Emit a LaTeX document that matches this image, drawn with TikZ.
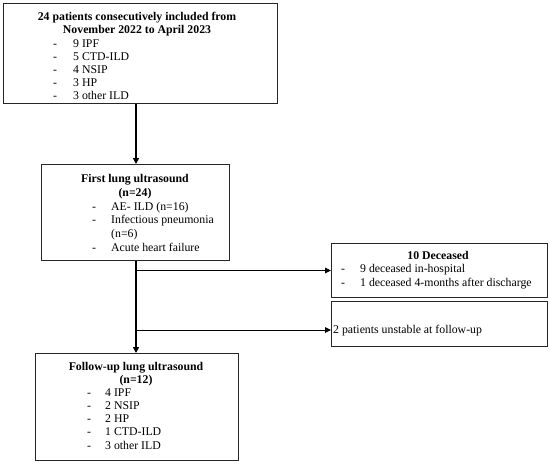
\documentclass[tikz,border=0pt]{standalone}
\usepackage{fontspec}
\setmainfont{Liberation Serif}
\usetikzlibrary{arrows.meta}
\newcommand\fcfs{\fontsize{11.8}{13}\selectfont}
\tikzset{
  box/.style={draw=black!85, line width=1pt, anchor=north west, inner sep=0pt},
  txt/.style={anchor=base west, inner sep=0pt, font=\fcfs},
  hd/.style={anchor=base, inner sep=0pt, font=\fcfs\bfseries},
  arr/.style={-{Triangle[width=6pt,length=6pt]}, line width=1.6pt},
  harr/.style={-{Triangle[width=5.5pt,length=6pt]}, line width=1pt}
}
\begin{document}
\begin{tikzpicture}[x=1pt,y=-1pt]
\useasboundingbox (0,0) rectangle (550,464);
% boxes
\node[box, minimum width=274pt, minimum height=100pt] (b1) at (3,3) {};
\node[box, minimum width=188pt, minimum height=96pt] (b2) at (41,164) {};
\node[box, minimum width=216pt, minimum height=54pt] (b3) at (331,243) {};
\node[box, minimum width=216pt, minimum height=45pt] (b3b) at (331,301) {};
\node[box, minimum width=203pt, minimum height=107pt] (b4) at (35,353) {};
% box 1 text
\node[hd] (h1a) at (137,20) {24 patients consecutively included from};
\node[hd] (h1b) at (137,33) {November 2022 to April 2023};
\foreach \t [count=\i] in {9 IPF, 5 CTD-ILD, 4 NSIP, 3 HP, 3 other ILD}{
  \node[txt] (d1\i) at (53,{47+13*(\i-1)}) {-};
  \node[txt] (t1\i) at (73,{47+13*(\i-1)}) {\t};
}
% box 2 text
\node[hd] (h2a) at (135,182) {First lung ultrasound};
\node[hd] (h2b) at (135,196) {(n=24)};
\node[txt] (d21) at (92,210) {-};
\node[txt] (t21) at (111,210) {AE- ILD (n=16)};
\node[txt] (d22) at (92,223) {-};
\node[txt] (t22) at (111,223) {Infectious pneumonia};
\node[txt] (t22b) at (111,237) {(n=6)};
\node[txt] (d23) at (92,251) {-};
\node[txt] (t23) at (111,251) {Acute heart failure};
% box 3 text
\node[hd] (h3) at (438,259) {10 Deceased};
\node[txt] (d31) at (341,272) {-};
\node[txt] (t31) at (360,272) {9 deceased in-hospital};
\node[txt] (d32) at (341,286) {-};
\node[txt] (t32) at (360,286) {1 deceased 4-months after discharge};
\node[txt] (t3b) at (333,333) {2 patients unstable at follow-up};
% box 4 text
\node[hd] (h4a) at (136,370) {Follow-up lung ultrasound};
\node[hd] (h4b) at (136,383) {(n=12)};
\foreach \t [count=\i] in {4 IPF, 2 NSIP, 2 HP, 1 CTD-ILD, 3 other ILD}{
  \node[txt] (d4\i) at (87,{396+13.25*(\i-1)}) {-};
  \node[txt] (t4\i) at (105,{396+13.25*(\i-1)}) {\t};
}
% connectors
\coordinate (sp) at (136,0);
\coordinate (j2) at (136,330);
\draw[arr] (b1.south -| sp) -- (b2.north -| sp);
\draw[arr] (b2.south -| sp) -- (b4.north -| sp);
\draw[harr] (b3.west -| sp) -- (b3.west);
\draw[harr] (j2) -- (j2 -| b3b.west);
\end{tikzpicture}
\end{document}
